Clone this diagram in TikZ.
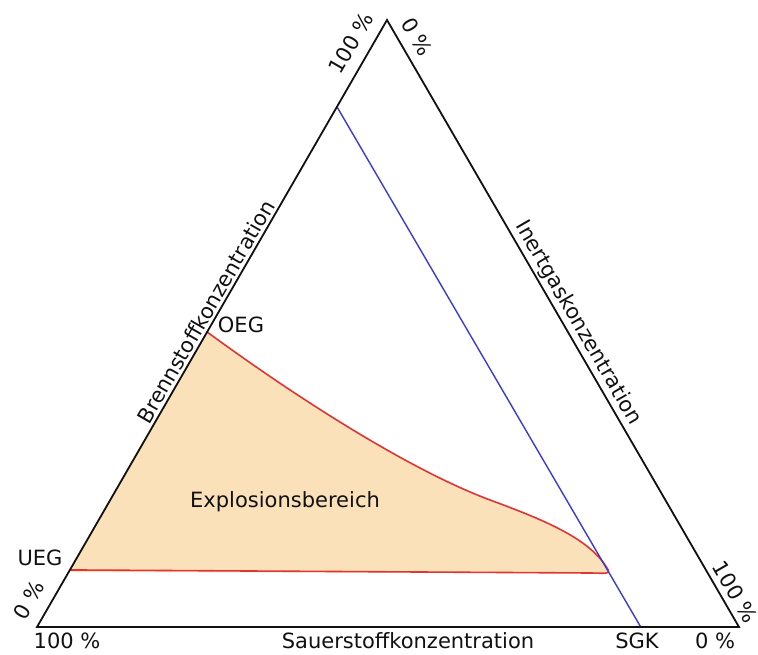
\documentclass[tikz,border=0pt]{standalone}
\usepackage{fontspec}
\setmainfont{DejaVu Sans}
\usetikzlibrary{positioning, calc}
\definecolor{exFill}{HTML}{FBE1BA}
\definecolor{exRed}{HTML}{E03535}
\definecolor{sgkBlue}{HTML}{3A3ADB}
\definecolor{axDark}{HTML}{111111}
\tikzset{
  axisT/.style={draw=axDark, line width=1.8pt, line join=miter},
  lineB/.style={draw=sgkBlue, line width=1.4pt},
  lineR/.style={draw=exRed, line width=1.6pt},
  lbl/.style={font=\fontsize{21}{24}\selectfont, text=axDark, inner sep=1pt},
}
\begin{document}
\begin{tikzpicture}[x=1pt, y=-1pt]
        \useasboundingbox (0,0) rectangle (758,655);
        % Eckpunkte
        \coordinate (A) at (37,627);
        \coordinate (B) at (739,627);
        \coordinate (C) at (387,20);
        \coordinate (ueg) at ($(A)!0.094!(C)$);
        \coordinate (oeg) at ($(A)!0.486!(C)$);
        \coordinate (top) at ($(A)!0.857!(C)$);
        \coordinate (sgk) at ($(A)!0.86!(B)$);
        \coordinate (tip) at (607,568);
        % Explosionsbereich
        \fill[exFill] (ueg) -- (oeg)
          .. controls (300,400) and (410,470) .. (490,500)
          .. controls (550,522) and (590,540) .. (tip)
          .. controls (612,575) and (604,573) .. (590,573) -- (71,572) -- cycle;
        \draw[lineR] (oeg)
          .. controls (300,400) and (410,470) .. (490,500)
          .. controls (550,522) and (590,540) .. (tip)
          .. controls (612,575) and (604,573) .. (590,573) -- (ueg);
        % Grenzlinie
        \draw[lineB] (top) -- (sgk);
        % Dreieck
        \draw[axisT] (A) -- (B) -- (C) -- cycle;
        % Achsen
        \path (A) -- (C) node[pos=0.51, sloped, above, lbl, yshift=2pt] (brenn) {Brennstoffkonzentration};
        \path (C) -- (B) node[pos=0.51, sloped, above, lbl, yshift=2pt] (inert) {Inertgaskonzentration};
        \node[lbl] (sauer) at (408,641) {Sauerstoffkonzentration};
        % Prozente
        \node[lbl, rotate=60] (p1) at (351,43) {100 \%};
        \node[lbl, rotate=-60] (p2) at (417,37) {0 \%};
        \node[lbl, rotate=60] (p3) at (29,600) {0 \%};
        \node[lbl, rotate=-60] (p4) at (735,592) {100 \%};
        \node[lbl] (p5) at (67,641) {100 \%};
        \node[lbl] (p6) at (715,641) {0 \%};
        % Grenzwerte
        \node[lbl] (lueg) at (40,558) {UEG};
        \node[lbl] (loeg) at (241,325) {OEG};
        \node[lbl] (lsgk) at (637,641) {SGK};
        \node[lbl] (lexp) at (285,502) {Explosionsbereich};
      \end{tikzpicture}
\end{document}
